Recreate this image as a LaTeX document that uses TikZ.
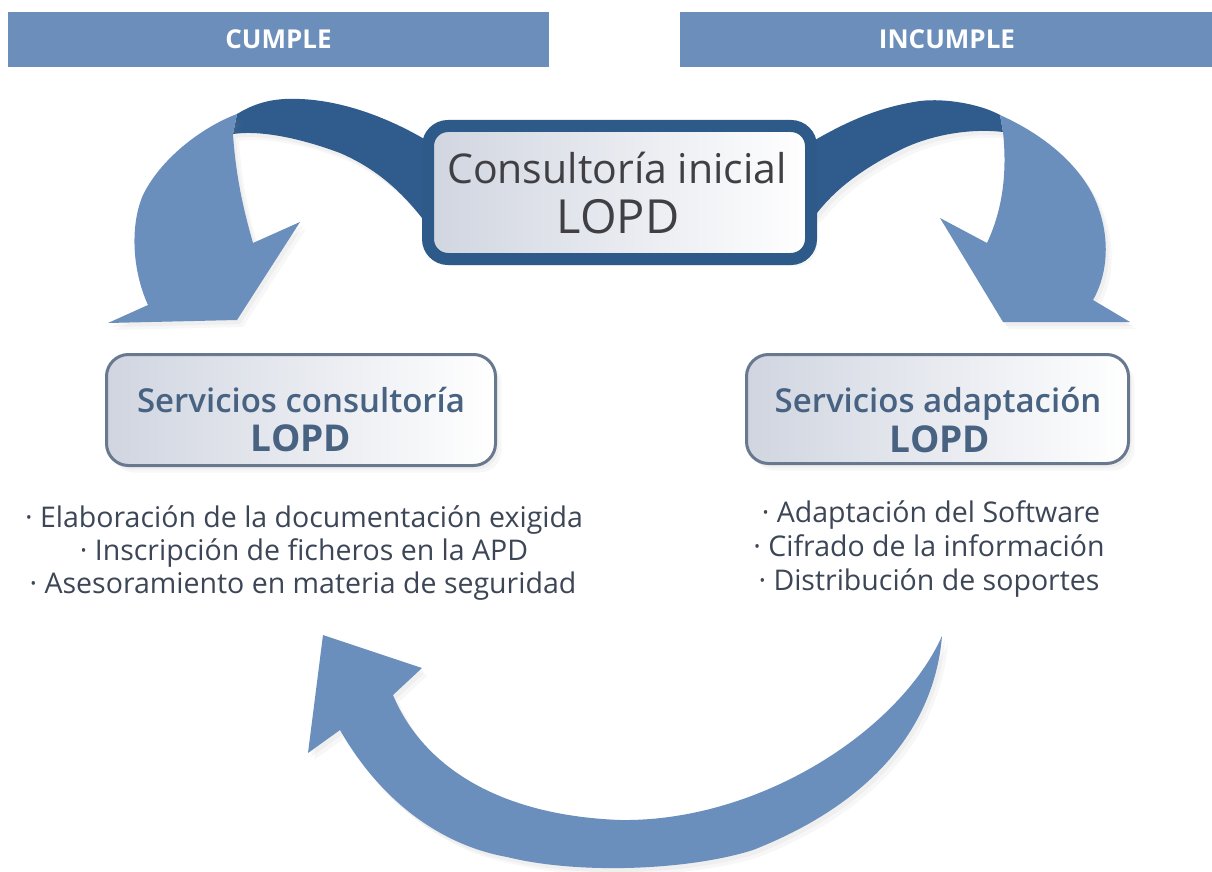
\documentclass[tikz,border=0pt]{standalone}
\usepackage{fontspec}
\setmainfont{Open Sans}
\newfontfamily\semib{Open Sans Semibold}
\usetikzlibrary{shadows}
\definecolor{barblue}{RGB}{107,143,186}
\definecolor{arrowlightc}{RGB}{106,143,189}
\definecolor{arrowdarkc}{RGB}{47,92,141}
\definecolor{boxedge}{RGB}{46,90,138}
\definecolor{thinedge}{RGB}{104,120,142}
\definecolor{boxgray}{RGB}{208,213,224}
\definecolor{toptext}{RGB}{64,64,68}
\definecolor{subtext}{RGB}{72,98,130}
\definecolor{bullettext}{RGB}{60,70,86}
\tikzset{
  headbar/.style={fill=barblue, draw=none, minimum height=55pt, inner sep=0pt, text=white, font=\bfseries\fontsize{26}{29}\selectfont},
  softshadow/.style={drop shadow={opacity=0.07, shadow xshift=3pt, shadow yshift=-4pt},
                     drop shadow={opacity=0.06, shadow xshift=6pt, shadow yshift=-7pt}},
  topbox/.style={draw=boxedge, line width=12pt, rounded corners=20pt, left color=boxgray, right color=white, softshadow, minimum width=383pt, minimum height=133pt, inner sep=0pt},
  subbox/.style={draw=thinedge, line width=3pt, rounded corners=22pt, left color=boxgray, right color=white, softshadow, inner sep=0pt},
  toplabel/.style={text=toptext, anchor=base, inner sep=0pt},
  sublabel/.style={text=subtext, anchor=base, inner sep=0pt},
  bulletline/.style={text=bullettext, anchor=base, inner sep=0pt, font=\fontsize{28.5}{32}\selectfont},
  arrowlight/.style={fill=arrowlightc, softshadow},
  arrowdark/.style={fill=arrowdarkc, softshadow}
}
\begin{document}
\begin{tikzpicture}[x=1pt, y=-1pt]
\useasboundingbox (0,0) rectangle (1212,872);
\fill[white] (0,0) rectangle (1212,872);

% header bars
\node[headbar, minimum width=541pt] (cumple) at (278.5,39.5) {CUMPLE};
\node[headbar, minimum width=534pt] (incumple) at (947,39.5) {INCUMPLE};

% left top arrow
\fill[arrowdark] (440,138) -- (426,140) .. controls (380,113) and (330,97) .. (285,99)
   .. controls (265,100) and (250,106) .. (237,114) -- (233,134)
   .. controls (260,130) and (300,138) .. (340,153)
   .. controls (375,168) and (400,190) .. (422,218) -- (440,225) -- cycle;
\fill[arrowlight] (237,114) .. controls (200,128) and (160,160) .. (143,195)
   .. controls (130,225) and (132,270) .. (148,305) -- (108,323) -- (237,320)
   -- (300,222) -- (253,243) .. controls (245,215) and (236,180) .. (233,134) -- cycle;

% right top arrow
\fill[arrowdark] (800,138) -- (815,140) .. controls (850,120) and (880,107) .. (920,101)
   .. controls (945,98) and (980,104) .. (1000,115) -- (1003,132)
   .. controls (970,128) and (930,135) .. (900,150)
   .. controls (860,170) and (835,190) .. (817,213) -- (800,222) -- cycle;
\fill[arrowlight] (1000,115) .. controls (1040,133) and (1075,160) .. (1093,195)
   .. controls (1110,230) and (1110,270) .. (1093,300) -- (1130,322) -- (1003,322)
   -- (940,218) -- (987,243) .. controls (1000,215) and (1008,180) .. (1003,132) -- cycle;

% bottom arrow
\fill[arrowlight] (942,636) .. controls (935,720) and (880,800) .. (753,850)
   .. controls (690,870) and (580,875) .. (507,857)
   .. controls (440,845) and (380,800) .. (340,730)
   -- (308,753) -- (323,635) -- (422,668) -- (393,695)
   .. controls (420,760) and (490,815) .. (620,820)
   .. controls (760,822) and (900,730) .. (942,636) -- cycle;

% top box
\node[topbox] (inicial) at (619.5,192.5) {};
\node[toplabel, font=\fontsize{41}{48}\selectfont] (inicialA) at (617,183) {Consultoría inicial};
\node[toplabel, font=\fontsize{47}{54}\selectfont] (inicialB) at (618,233) {LOPD};

% left box
\node[subbox, minimum width=389pt, minimum height=111pt] (consul) at (301,410) {};
\node[sublabel, font=\semib\fontsize{33}{38}\selectfont] (consulA) at (301,412) {Servicios consultoría};
\node[sublabel, font=\bfseries\fontsize{37}{42}\selectfont] (consulB) at (301,451) {LOPD};

% right box
\node[subbox, minimum width=382pt, minimum height=109pt] (adapt) at (937.5,409) {};
\node[sublabel, font=\semib\fontsize{33}{38}\selectfont] (adaptA) at (938,412) {Servicios adaptación};
\node[sublabel, font=\bfseries\fontsize{37}{42}\selectfont] (adaptB) at (940,452) {LOPD};

% bullet lists
\node[bulletline] (l1) at (304,527) {· Elaboración de la documentación exigida};
\node[bulletline] (l2) at (304,560) {· Inscripción de ficheros en la APD};
\node[bulletline] (l3) at (303,593) {· Asesoramiento en materia de seguridad};
\node[bulletline] (r1) at (931,522) {· Adaptación del Software};
\node[bulletline] (r2) at (929,556) {· Cifrado de la información};
\node[bulletline] (r3) at (929,590) {· Distribución de soportes};
\end{tikzpicture}
\end{document}
